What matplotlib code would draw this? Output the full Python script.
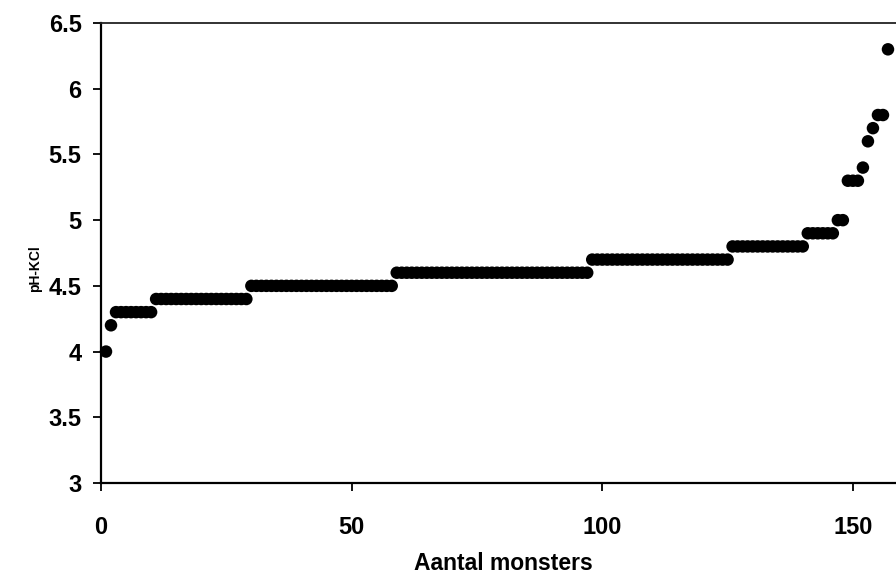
import matplotlib.pyplot as plt
import numpy as np

# pH-KCl values per sample (sorted, sample numbers 1..157)
ph_levels = [4.0, 4.2, 4.3, 4.4, 4.5, 4.6, 4.7, 4.8, 4.9, 5.0,
             5.3, 5.4, 5.6, 5.7, 5.8, 6.3]
counts = [1, 1, 8, 19, 29, 39, 28, 15, 6, 2,
          3, 1, 1, 1, 2, 1]

ph = np.repeat(ph_levels, counts)
samples = np.arange(1, len(ph) + 1)

y_ticks = [3, 3.5, 4, 4.5, 5, 5.5, 6, 6.5]
x_ticks = [0, 50, 100, 150]

plt.rcParams['font.family'] = ['Liberation Sans', 'DejaVu Sans']
plt.rcParams['font.weight'] = 'bold'

fig = plt.figure(figsize=(8.96, 5.76), dpi=100)
ax = fig.add_axes([0.1127, 0.1615, 0.8873, 0.7985])

ax.scatter(samples, ph, s=81, color='black', edgecolors='none', clip_on=False, zorder=3)

ax.set_xlim(0, 158.6)
ax.set_ylim(3, 6.5)
ax.set_xticks(x_ticks)
ax.set_yticks(y_ticks)
ax.set_yticklabels([f'{v:g}' for v in y_ticks])

ax.spines['right'].set_visible(False)
for side in ['left', 'bottom']:
    ax.spines[side].set_linewidth(1.6)
ax.spines['top'].set_linewidth(1.3)
ax.spines['top'].set_color('#222222')

ax.tick_params(axis='both', direction='out', length=6, width=1.3, labelsize=17)
ax.tick_params(axis='x', pad=18)
ax.tick_params(axis='y', pad=8)

ax.set_xlabel('Aantal monsters', fontsize=16.5, fontweight='bold')
ax.set_ylabel('pH-KCl', fontsize=10, fontweight='bold')
ax.xaxis.set_label_coords(0.506, -0.150)
ax.yaxis.set_label_coords(-0.074, 0.467)

fig.savefig('out.png', dpi=100)
